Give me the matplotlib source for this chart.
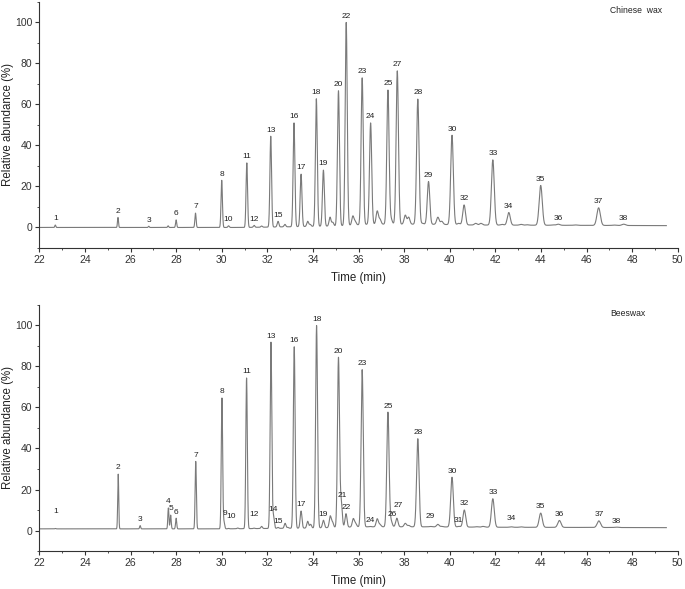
import numpy as np
import matplotlib
matplotlib.use("Agg")
import matplotlib.pyplot as plt
from matplotlib.ticker import MultipleLocator

plt.rcParams['font.family'] = ['Liberation Sans', 'DejaVu Sans']

# ---- Chinese wax: labelled peaks (number, retention time min, relative abundance %)
cw_num = [1, 2, 3, 6, 7, 8, 10, 11, 12, 13, 15, 16, 17, 18, 19, 20, 22, 23, 24, 25,
          27, 28, 29, 30, 32, 33, 34, 35, 36, 37, 38]
cw_time = [22.70, 25.45, 26.80, 28.00, 28.85, 30.00, 30.30, 31.10, 31.42, 32.15,
           32.47, 33.17, 33.48, 34.15, 34.46, 35.12, 35.46, 36.16, 36.53, 37.29,
           37.70, 38.60, 39.07, 40.10, 40.63, 41.89, 42.59, 43.99, 44.76, 46.53, 47.63]
cw_height = [1.2, 4.9, 0.6, 3.7, 7.0, 23.0, 0.8, 31.5, 1.0, 44.5,
             3.0, 51.0, 26.0, 62.8, 28.0, 66.7, 100.0, 73.0, 51.0, 67.0,
             76.4, 62.6, 22.4, 45.0, 11.0, 33.0, 7.3, 20.5, 1.6, 9.6, 1.6]
# unlabelled minor peaks
cw_minor_time = [27.65, 31.75, 32.77, 33.77, 33.88, 34.75, 34.87, 35.75, 35.85, 36.82,
                 36.94, 37.43, 38.05, 38.20, 38.80, 39.48, 39.65, 40.39, 41.14, 41.37,
                 42.30, 43.13, 43.40, 44.54, 45.50, 47.20]
cw_minor_height = [0.8, 0.7, 1.5, 3.0, 1.5, 5.0, 2.5, 5.5, 3.0, 8.0,
                   4.0, 4.0, 6.0, 5.0, 2.0, 5.0, 3.0, 2.0, 2.0, 2.0,
                   1.5, 1.5, 1.2, 1.2, 0.6, 0.6]
cw_base_t = [22.0, 31.0, 35.0, 36.5, 39.0, 41.0, 49.5]
cw_base_y = [0.0, 0.0, 0.7, 1.6, 1.6, 1.2, 0.9]

# ---- Beeswax
bw_num = list(range(1, 39))
bw_time = [22.70, 25.46, 26.42, 27.66, 27.76, 28.00, 28.86, 30.01, 30.10, 30.30,
           31.09, 31.42, 32.16, 32.27, 32.47, 33.18, 33.48, 34.16, 34.46, 35.12,
           35.24, 35.45, 36.16, 36.50, 37.29, 37.43, 37.68, 38.60, 39.15, 40.10,
           40.40, 40.64, 41.89, 42.70, 43.99, 44.81, 46.54, 47.30]
bw_height = [1.0, 27.5, 2.4, 11.0, 7.5, 6.0, 33.7, 64.6, 4.0, 1.0,
             74.4, 1.0, 91.8, 7.0, 1.5, 89.6, 9.5, 100.0, 5.0, 84.2,
             14.0, 8.2, 78.5, 1.8, 57.7, 4.5, 6.0, 44.8, 1.8, 26.0,
             2.0, 10.0, 15.5, 1.8, 8.5, 4.9, 4.7, 1.5]
bw_minor_time = [30.70, 31.75, 32.78, 32.90, 33.77, 33.90, 34.76, 34.86, 35.77, 35.87,
                 36.82, 36.94, 38.05, 38.20, 39.48, 39.65, 41.17, 41.46, 43.14]
bw_minor_height = [1.2, 2.0, 3.5, 1.5, 4.5, 3.0, 7.0, 4.0, 5.7, 3.5,
                   5.7, 3.0, 3.5, 2.5, 3.0, 2.0, 1.5, 2.0, 1.5]
bw_base_t = [22.0, 30.0, 34.0, 36.0, 39.0, 42.0, 49.5]
bw_base_y = [0.8, 0.8, 1.2, 1.8, 1.8, 1.6, 1.4]

GRAY = '#7a7a7a'
t = np.linspace(22.0, 49.5, 12000)


def trace(times, heights, mtimes, mheights, bt, by):
    base = np.interp(t, bt, by)
    y = base.copy()
    for tt, h in zip(list(times) + list(mtimes), list(heights) + list(mheights)):
        sig = max(0.022, 0.03 + (tt - 30) * 0.0027)
        amp = max(h - np.interp(tt, bt, by), 0.2)
        y += amp * np.exp(-0.5 * ((t - tt) / sig) ** 2)
    return y


def panel(ax, name, num, times, heights, mtimes, mheights, bt, by, nudge):
    y = trace(times, heights, mtimes, mheights, bt, by)
    ax.plot(t, y, color=GRAY, lw=0.8)
    for n, tt, h in zip(num, times, heights):
        dx, dy = nudge.get(n, (0, 0))
        ax.text(tt + dx, h + 1.3 + dy, str(n), ha='center', va='bottom',
                fontsize=6, color='#222222')
    ax.set_xlim(22, 50)
    ax.set_ylim(-10, 110)
    ax.set_xticks(np.arange(22, 51, 2))
    ax.set_yticks(np.arange(0, 101, 20))
    ax.xaxis.set_minor_locator(MultipleLocator(1))
    ax.yaxis.set_minor_locator(MultipleLocator(10))
    ax.tick_params(which='major', length=3, width=0.8, labelsize=7.5, direction='out',
                   colors='#333333', pad=2)
    ax.tick_params(which='minor', length=1.6, width=0.6, direction='out', colors='#333333')
    for s in ['top', 'right']:
        ax.spines[s].set_visible(False)
    for s in ['left', 'bottom']:
        ax.spines[s].set_color('#333333')
        ax.spines[s].set_linewidth(0.8)
    ax.set_xlabel('Time (min)', fontsize=8.3, labelpad=5, color='#222222')
    ax.set_ylabel('Relative abundance (%)', fontsize=8.3, labelpad=1, color='#222222')
    ax.text(0.894, 0.985, name, transform=ax.transAxes, fontsize=6.2, va='top',
            ha='left', color='#222222')


fig = plt.figure(figsize=(6.85, 5.89), dpi=100)
ax1 = fig.add_axes([0.0574, 0.579, 0.932, 0.4177])
ax2 = fig.add_axes([0.0574, 0.0645, 0.932, 0.4177])

panel(ax1, 'Chinese  wax', cw_num, cw_time, cw_height, cw_minor_time, cw_minor_height,
      cw_base_t, cw_base_y, {})
panel(ax2, 'Beeswax', bw_num, bw_time, bw_height, bw_minor_time, bw_minor_height,
      bw_base_t, bw_base_y,
      {1: (0, 5.5), 9: (0.03, 1.5), 10: (0.12, 3.0), 12: (0, 4.0), 29: (0, 2.0),
       34: (0, 1.0), 26: (0.05, 0.5), 27: (0.05, 3.0), 21: (0.05, 0), 5: (0.02, 0)})

fig.savefig('out.png', dpi=100)
